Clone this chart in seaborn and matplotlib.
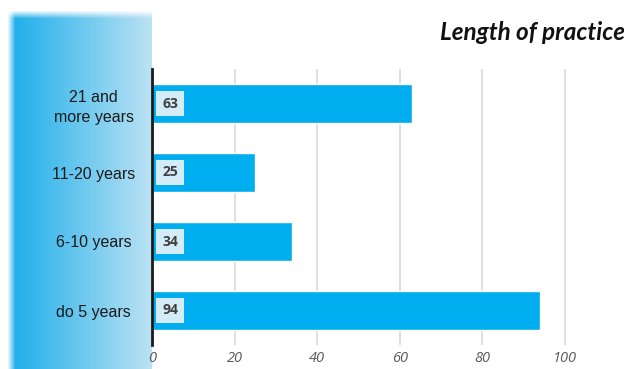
import numpy as np
import pandas as pd
import matplotlib
matplotlib.use("Agg")
import matplotlib.pyplot as plt
import seaborn as sns
from matplotlib.colors import to_rgb

categories = ["21 and\nmore years", "11-20 years", "6-10 years", "do 5 years"]
counts = [63, 25, 34, 94]
x_ticks = [0, 20, 40, 60, 80, 100]
title = "Length of practice"

df = pd.DataFrame({"period": categories, "count": counts})

sns.set_theme(style="white")
plt.rcParams["font.family"] = ["Liberation Sans", "DejaVu Sans"]

W, H = 624, 369
fig = plt.figure(figsize=(W / 100, H / 100), dpi=100)
fig.patch.set_facecolor("white")

# soft blue gradient panel behind the category labels
panel = fig.add_axes([0, 0, 152 / W, 1], zorder=0)
pw, ph = 152, 369
xs = np.arange(pw)
ys = np.arange(ph)
c0 = np.array(to_rgb("#1CAEEA"))
c1 = np.array(to_rgb("#BCE2F4"))
t = np.clip((xs - 10) / (pw - 10), 0, 1)[None, :, None]
rgb = np.broadcast_to(c0 * (1 - t) + c1 * t, (ph, pw, 3))
ax_fade = np.clip((xs - 7) / 8.0, 0, 1)
ay_fade = np.clip((ys - 10) / 8.0, 0, 1)
alpha = ay_fade[:, None] * ax_fade[None, :]
img = np.dstack([rgb, alpha])
panel.imshow(img, aspect="auto", extent=[0, pw, ph, 0], interpolation="bilinear")
panel.set_xlim(0, pw)
panel.set_ylim(ph, 0)
panel.axis("off")

ax = fig.add_axes([152 / W, 1 - 345 / H, (612 - 152) / W, (345 - 69) / H], zorder=2)
ax.patch.set_alpha(0)
sns.barplot(data=df, y="period", x="count", orient="h", color="#00AEEF",
            saturation=1, width=0.57, ax=ax, zorder=3)

ax.set_xlim(0, 100 * (612 - 152) / (565 - 152))
ax.set_ylim(3.5, -0.5)
ax.set_xticks(x_ticks)
ax.set_xticklabels([str(v) for v in x_ticks], fontstyle="italic", color="#595959",
                   fontsize=10.5, family=["Open Sans", "DejaVu Sans"])
ax.tick_params(axis="x", length=0, pad=4)
ax.tick_params(axis="y", length=0, labelsize=11.5, labelcolor="#1a1a1a")
ax.grid(axis="x", color="#D9D9D9", linewidth=1.2, zorder=0)
ax.set_axisbelow(True)
for s in ["top", "right", "bottom"]:
    ax.spines[s].set_visible(False)
ax.spines["left"].set_color("#1a1a1a")
ax.spines["left"].set_linewidth(2)
ax.spines["left"].set_zorder(5)
ax.set_xlabel("")
ax.set_ylabel("")
for lbl in ax.get_yticklabels():
    lbl.set_horizontalalignment("center")
    lbl.set_multialignment("center")
    lbl.set_linespacing(1.45)
ax.tick_params(axis="y", pad=42)

for i, v in enumerate(counts):
    ax.annotate(str(v), xy=(0, i), xytext=(13, 0), textcoords="offset points",
                ha="center", va="center", fontsize=10, fontweight="bold",
                color="#404040", family=["Open Sans", "DejaVu Sans"],
                bbox=dict(boxstyle="square,pad=0.42", facecolor="#D3ECF8",
                          edgecolor="none"), zorder=6)

fig.text(625 / W, 1 - 32 / H, title, ha="right", va="center", fontsize=17.5,
         fontweight="bold", fontstyle="italic", color="#111111",
         family=["Lato", "DejaVu Sans"])

fig.savefig("out.png", dpi=100, facecolor="white")
